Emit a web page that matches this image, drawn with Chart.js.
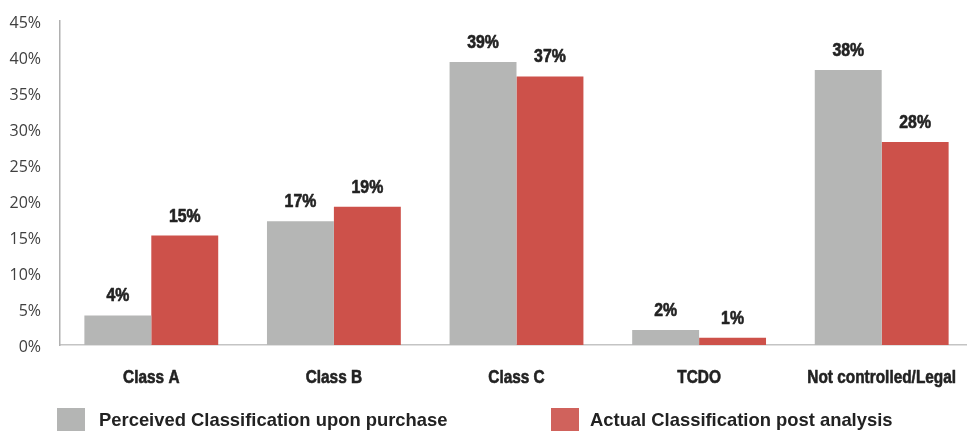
<!DOCTYPE html>
<html>
<head>
<meta charset="utf-8">
<script src="https://cdn.jsdelivr.net/npm/chart.js@4/dist/chart.umd.min.js"></script>
<style>
  html, body { margin: 0; padding: 0; background: #fff; width: 967px; height: 431px; overflow: hidden; }
  #wrap { position: relative; width: 974px; height: 431px; }
  #c { position: absolute; left: 0; top: 0; }
  .leg { position: absolute; top: 408px; height: 23px; display: flex; align-items: center; font-family: 'Liberation Sans', Arial, sans-serif; font-weight: bold; font-size: 18.4px; color: #222; white-space: nowrap; }
  .sw { width: 28px; height: 23px; flex: none; }
</style>
</head>
<body>
<div id="wrap">
  <canvas id="c" width="974" height="431"></canvas>
  <div class="leg" id="leg1" style="left:57px"><span class="sw" style="background:#b4b5b4;margin-right:14px"></span><span id="t1"></span></div>
  <div class="leg" id="leg2" style="left:551px"><span class="sw" style="background:#d0625c;margin-right:11px"></span><span id="t2"></span></div>
</div>
<script>
const categories = ['Class A', 'Class B', 'Class C', 'TCDO', 'Not controlled/Legal'];
const seriesNames = ['Perceived Classification upon purchase', 'Actual Classification post analysis'];
const perceived = [4.1, 17.2, 39.3, 2.1, 38.2];
const actual = [15.2, 19.2, 37.3, 1.0, 28.2];
const yTicks = [0, 5, 10, 15, 20, 25, 30, 35, 40, 45];

document.getElementById('t1').textContent = seriesNames[0];
document.getElementById('t2').textContent = seriesNames[1];

function narrowText(ctx, text, x, y, sx) {
  ctx.save();
  ctx.translate(x, y);
  ctx.scale(sx, 1);
  ctx.strokeText(text, 0, 0);
  ctx.fillText(text, 0, 0);
  ctx.restore();
}

const labelPlugin = {
  id: 'barLabels',
  afterDatasetsDraw(chart) {
    const ctx = chart.ctx;
    ctx.save();
    ctx.fillStyle = '#222';
    ctx.strokeStyle = '#222';
    ctx.lineWidth = 0.6;
    ctx.lineJoin = 'round';
    ctx.textAlign = 'center';
    ctx.textBaseline = 'alphabetic';
    ctx.font = "bold 18px 'Liberation Sans', Arial, sans-serif";
    chart.data.datasets.forEach((ds, i) => {
      chart.getDatasetMeta(i).data.forEach((bar, j) => {
        narrowText(ctx, Math.round(ds.data[j]) + '%', bar.x, bar.y - 14, 0.88);
      });
    });
    ctx.font = "bold 19px 'Liberation Sans', Arial, sans-serif";
    const xs = chart.scales.x;
    chart.data.labels.forEach((lab, i) => {
      narrowText(ctx, lab, xs.getPixelForTick(i), xs.top + 38, 0.81);
    });
    ctx.restore();
  }
};

new Chart(document.getElementById('c'), {
  type: 'bar',
  data: {
    labels: categories,
    datasets: [
      { label: seriesNames[0], data: perceived, backgroundColor: '#b5b6b5', borderWidth: 0 },
      { label: seriesNames[1], data: actual, backgroundColor: '#cd514a', borderWidth: 0 }
    ]
  },
  options: {
    responsive: false,
    animation: false,
    devicePixelRatio: 1,
    layout: { padding: { top: 21, left: 0, right: 1, bottom: 0 } },
    datasets: { bar: { categoryPercentage: 0.733, barPercentage: 1.0 } },
    plugins: { legend: { display: false }, tooltip: { enabled: false } },
    scales: {
      x: {
        grid: { display: false, drawTicks: false },
        border: { display: true, color: '#c4c4c4', width: 1.5 },
        ticks: { display: false },
        afterFit(scale) { scale.height = 86; }
      },
      y: {
        min: 0,
        max: 45,
        afterBuildTicks(scale) { scale.ticks = yTicks.map(v => ({ value: v })); },
        grid: { display: false, drawTicks: false },
        border: { display: true, color: '#b0b0b0', width: 1.5 },
        ticks: {
          color: '#404040',
          padding: 19,
          labelOffset: 2.5,
          font: { family: "'Open Sans', sans-serif", size: 16 },
          callback: v => v + '%'
        },
        afterFit(scale) { scale.width = 60; scale.paddingTop = 0; scale.paddingBottom = 0; }
      }
    }
  },
  plugins: [labelPlugin]
});
</script>
</body>
</html>
